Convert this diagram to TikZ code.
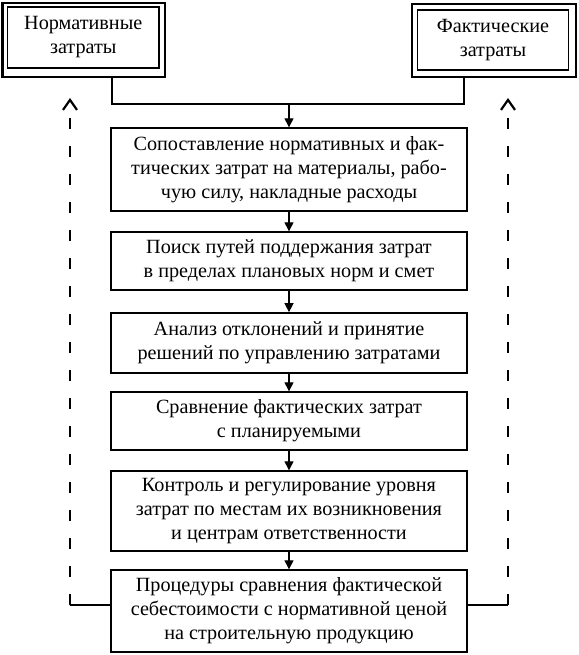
\documentclass[tikz,border=0pt]{standalone}
\usepackage{fontspec}
\setmainfont{Liberation Serif}
\usetikzlibrary{arrows.meta}
\begin{document}
\begin{tikzpicture}[x=1pt,y=-1pt,
  txt/.style={font=\fontsize{20.2}{24}\selectfont, align=center},
  box/.style={txt, draw, line width=1.4pt, minimum width=356pt, inner sep=0pt},
  outerframe/.style={draw, line width=2.6pt, inner sep=0pt},
  innerframe/.style={txt, draw, line width=1.1pt, inner sep=0pt},
  link/.style={line width=1.3pt},
  arr/.style={link, -{Triangle[width=9pt,length=9pt]}},
  fb/.style={line width=1.6pt, dash pattern=on 11pt off 17pt, -{Straight Barb[width=14pt,length=10pt,line width=2.2pt]}}]
\useasboundingbox (0,0) rectangle (578,655);
\fill[white] (0,0) rectangle (578,655);
% top boxes
\node[outerframe, minimum width=162.3pt, minimum height=74pt] (Lo) at (83.85,40) {};
\node[innerframe, minimum width=151.5pt, minimum height=61pt] (L) at (83.25,37.5) {Нормативные\\затраты};
\node[outerframe, minimum width=164pt, minimum height=73pt] (Ro) at (494,40.5) {};
\node[innerframe, minimum width=151pt, minimum height=60pt] (R) at (493,40) {Фактические\\затраты};
% main boxes
\node[box, minimum height=83pt] (b1) at (289,169.5) {Сопоставление нормативных и фак-\\тических затрат на материалы, рабо-\\чую силу, накладные расходы};
\node[box, minimum height=58pt] (b2) at (289,261) {Поиск путей поддержания затрат\\в пределах плановых норм и смет};
\node[box, minimum height=60pt, line width=1.7pt] (b3) at (289,343) {Анализ отклонений и принятие\\решений по управлению затратами};
\node[box, minimum height=58pt] (b4) at (289,421) {Сравнение фактических затрат\\с планируемыми};
\node[box, minimum height=80pt] (b5) at (289,511) {Контроль и регулирование уровня\\затрат по местам их возникновения\\и центрам ответственности};
\node[box, minimum height=82pt] (b6) at (289,611) {Процедуры сравнения фактической\\себестоимости с нормативной ценой\\на строительную продукцию};
% junction
\coordinate (lj) at (112,104);
\coordinate (rj) at (464,104);
\coordinate (mj) at (289,104);
\draw[link] (Lo.south -| lj) -- (lj) -- (rj) -- (Ro.south -| rj);
\draw[arr] (mj) -- (b1.north);
\draw[arr] (b1) -- (b2);
\draw[arr] (b2) -- (b3);
\draw[arr] (b3) -- (b4);
\draw[arr] (b4) -- (b5);
\draw[arr] (b5) -- (b6);
% feedback
\coordinate (lb) at (70,605);
\coordinate (lt) at (70,98);
\coordinate (rb) at (508,605);
\coordinate (rt) at (508,98);
\draw[link] (b6.west |- lb) -- (lb);
\draw[link] (b6.east |- rb) -- (rb);
\draw[fb] (lb) -- (lt);
\draw[fb] (rb) -- (rt);
\end{tikzpicture}
\end{document}
